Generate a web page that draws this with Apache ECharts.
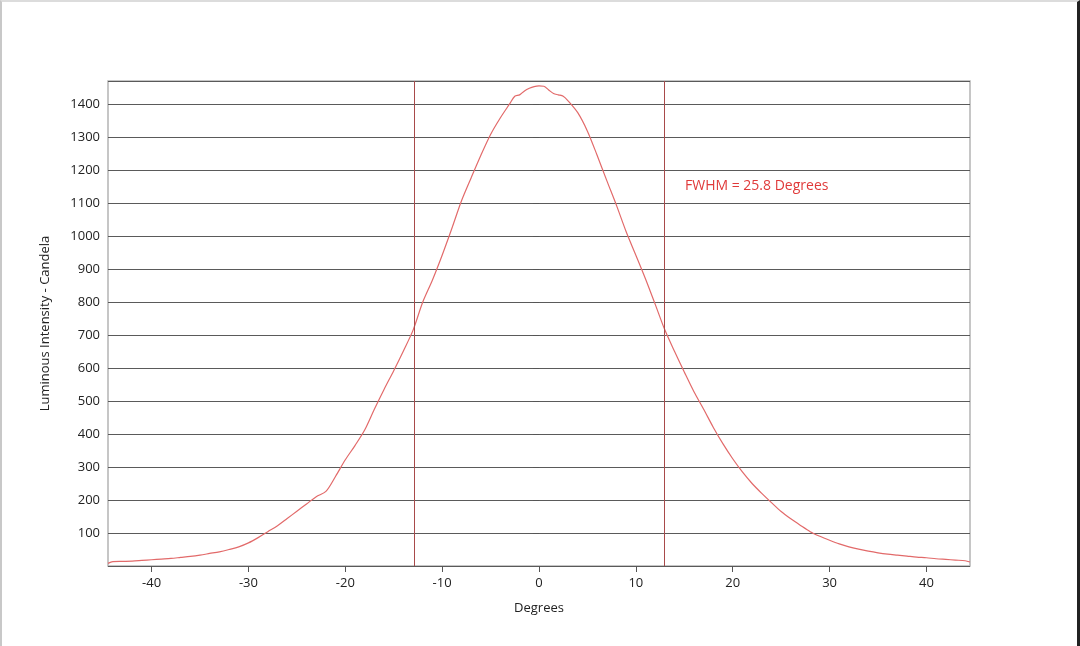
<!DOCTYPE html>
<html>
<head>
<meta charset="utf-8">
<script src="https://cdn.jsdelivr.net/npm/echarts@6/dist/echarts.min.js"></script>
<style>
  html, body { margin: 0; padding: 0; background: #fff; }
  #frame { position: absolute; left: 0; top: 0; width: 1080px; height: 646px; box-sizing: border-box;
           border-left: 2px solid #c8c8c8; border-top: 2px solid #dcdcdc; border-right: 3px solid #222; }
  #chart { position: absolute; left: 0; top: 0; width: 1080px; height: 646px; }
</style>
</head>
<body>
<div id="chart"></div>
<div id="frame"></div>
<script>
// angle (degrees) and measured intensity (cd)
var degrees = [-44.5, -44, -43, -42, -41, -40, -39, -38, -37, -36, -35, -34, -33, -32, -31, -30,
    -29, -28, -27, -26, -25, -24, -23, -22, -21, -20, -19, -18, -17, -16, -15, -14, -13, -12, -11, -10,
    -9, -8, -7, -6, -5, -4, -3, -2.5, -2, -1.5, -1, -0.5, 0, 0.5, 1, 1.5, 2, 2.5, 3, 4, 5,
    6, 7, 8, 9, 10, 11, 12, 13, 14, 15, 16, 17, 18, 19, 20, 21, 22, 23, 24, 25,
    26, 27, 28, 29, 30, 31, 32, 33, 34, 35, 36, 37, 38, 39, 40, 41, 42, 43, 44, 44.5];
var intensity = [8, 13, 14, 15, 17, 19, 21, 23, 26, 29, 33, 38, 43, 50, 58, 70,
    86, 104, 122, 144, 166, 188, 210, 226, 272, 322, 365, 412, 475, 535, 592, 652, 715, 800, 867, 942,
    1023, 1107, 1177, 1245, 1308, 1358, 1402, 1424, 1428, 1440, 1448, 1453, 1455, 1454, 1443, 1432, 1428, 1424, 1410, 1374, 1318,
    1245, 1168, 1093, 1013, 942, 870, 793, 715, 650, 588, 528, 475, 420, 370, 325, 285, 250, 220, 192, 165,
    143, 123, 104, 90, 78, 67, 58, 51, 45, 40, 36, 33, 30, 27, 25, 22, 20, 18, 16, 12];
var xTicks = [-40, -30, -20, -10, 0, 10, 20, 30, 40];
var fwhmLines = [-12.9, 12.9];
var fwhmText = 'FWHM = 25.8 Degrees';

var points = degrees.map(function (d, i) { return [d, intensity[i]]; });

var chart = echarts.init(document.getElementById('chart'));
var font = '"Open Sans", "DejaVu Sans", sans-serif';

chart.setOption({
    animation: false,
    textStyle: { fontFamily: font },
    grid: {
        left: 108, right: 110, top: 81, bottom: 80,
        show: true, borderColor: '#b4b4b4', borderWidth: 1.5, backgroundColor: '#fff'
    },
    xAxis: {
        type: 'value',
        min: -44.5, max: 44.5,
        name: 'Degrees',
        nameLocation: 'middle',
        nameGap: 36,
        nameTextStyle: { color: '#222', fontSize: 13, fontFamily: font },
        axisLine: { show: false },
        axisTick: { show: true, customValues: xTicks, length: 6, lineStyle: { color: '#555' } },
        axisLabel: { customValues: xTicks, color: '#222', fontSize: 13, margin: 11, fontFamily: font },
        splitLine: { show: false }
    },
    yAxis: {
        type: 'value',
        min: 0, max: 1470, interval: 100,
        name: 'Luminous Intensity - Candela',
        nameLocation: 'middle',
        nameGap: 56,
        nameTextStyle: { color: '#222', fontSize: 13, fontFamily: font },
        axisLine: { show: false },
        axisTick: { show: true, length: 6, lineStyle: { color: '#555' } },
        axisLabel: {
            color: '#222', fontSize: 13, margin: 8, showMinLabel: false, showMaxLabel: false, fontFamily: font,
            formatter: function (v) { return String(v); }
        },
        splitLine: { show: true, lineStyle: { color: '#5a5a5a', width: 1 } }
    },
    series: [{
        type: 'line',
        data: points,
        showSymbol: false,
        smooth: 0.3,
        lineStyle: { color: '#e26a6a', width: 1.2 },
        markLine: {
            silent: true,
            symbol: ['none', 'none'],
            label: { show: false },
            lineStyle: { color: '#a84a4a', width: 1, type: 'solid' },
            data: fwhmLines.map(function (v) { return { xAxis: v }; })
        }
    }],
    graphic: [{
        type: 'text',
        left: 685, top: 179,
        style: { text: fwhmText, fill: '#e03a3a', font: '14px ' + font }
    }]
});
</script>
</body>
</html>
